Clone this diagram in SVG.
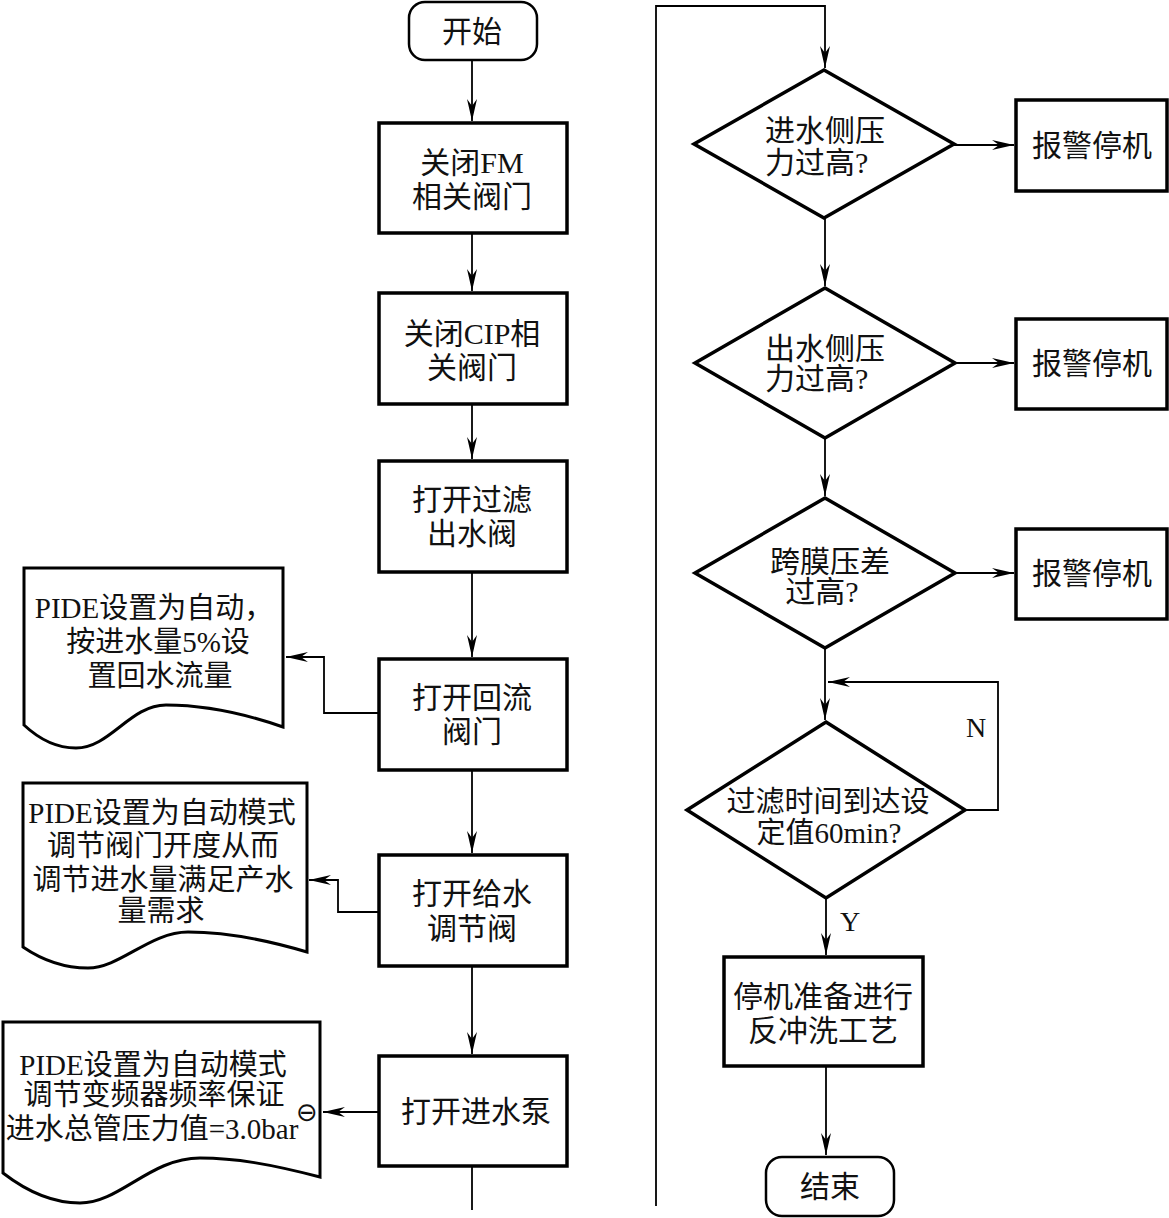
<svg xmlns="http://www.w3.org/2000/svg" width="1169" height="1218" viewBox="0 0 1169 1218">
<style>
.box{fill:#fff;stroke:#000;stroke-width:3.5}
.dia{fill:#fff;stroke:#000;stroke-width:3.5}
.term{fill:#fff;stroke:#000;stroke-width:2.5}
.doc{fill:#fff;stroke:#000;stroke-width:3}
.con{fill:none;stroke:#000;stroke-width:1.8}
text{font-family:"Liberation Serif","Noto Sans CJK SC",serif;font-size:30px;fill:#111}
.c{text-anchor:middle}
.d{font-size:29px}
</style>
<defs>
<marker id="ar" viewBox="-23 -6 24 12" refX="0" refY="0" markerWidth="24" markerHeight="12" markerUnits="userSpaceOnUse" orient="auto">
<path d="M0,0 L-22,-5 L-15,0 L-22,5 Z" fill="#000"/>
</marker>
</defs>
<g id="connectors">
<path class="con" d="M472,60 V121" marker-end="url(#ar)"/>
<path class="con" d="M472,233 V291" marker-end="url(#ar)"/>
<path class="con" d="M472,404 V459" marker-end="url(#ar)"/>
<path class="con" d="M472,572 V657" marker-end="url(#ar)"/>
<path class="con" d="M472,770 V853" marker-end="url(#ar)"/>
<path class="con" d="M472,966 V1054" marker-end="url(#ar)"/>
<path class="con" d="M472,1166 V1210"/>
<path class="con" d="M379,713 H324 V657 H286" marker-end="url(#ar)"/>
<path class="con" d="M379,912 H338 V880 H309" marker-end="url(#ar)"/>
<path class="con" d="M379,1112 H323" marker-end="url(#ar)"/>
<path class="con" d="M656,1206 V6 H825 V68" marker-end="url(#ar)"/>
<path class="con" d="M825,218 V286" marker-end="url(#ar)"/>
<path class="con" d="M825,438 V496" marker-end="url(#ar)"/>
<path class="con" d="M825,648 V720" marker-end="url(#ar)"/>
<path class="con" d="M954,145 H1014" marker-end="url(#ar)"/>
<path class="con" d="M955,363 H1014" marker-end="url(#ar)"/>
<path class="con" d="M955,573 H1014" marker-end="url(#ar)"/>
<path class="con" d="M965,810 H998 V682 H828" marker-end="url(#ar)"/>
<path class="con" d="M826,898 V955" marker-end="url(#ar)"/>
<path class="con" d="M826,1066 V1155" marker-end="url(#ar)"/>
</g>
<g id="start">
<rect class="term" x="409" y="2" width="128" height="58" rx="16"/>
<text class="c" x="472" y="42">开始</text>
</g>
<g id="b1">
<rect class="box" x="379" y="123" width="188" height="110"/>
<text class="c" x="472" y="173">关闭FM</text>
<text class="c" x="472" y="207">相关阀门</text>
</g>
<g id="b2">
<rect class="box" x="379" y="293" width="188" height="111"/>
<text class="c" x="472" y="344">关闭CIP相</text>
<text class="c" x="472" y="378">关阀门</text>
</g>
<g id="b3">
<rect class="box" x="379" y="461" width="188" height="111"/>
<text class="c" x="472" y="510">打开过滤</text>
<text class="c" x="472" y="544">出水阀</text>
</g>
<g id="b4">
<rect class="box" x="379" y="659" width="188" height="111"/>
<text class="c" x="472" y="708">打开回流</text>
<text class="c" x="472" y="742">阀门</text>
</g>
<g id="b5">
<rect class="box" x="379" y="855" width="188" height="111"/>
<text class="c" x="472" y="904">打开给水</text>
<text class="c" x="472" y="939">调节阀</text>
</g>
<g id="b6">
<rect class="box" x="379" y="1056" width="188" height="110"/>
<text class="c" x="476" y="1122">打开进水泵</text>
</g>
<g id="doc1">
<path class="doc" d="M24,568 H283 V727 C240,712 200,705 166,705 C130,705 110,748 76,748 C58,748 40,740 24,725 Z"/>
<text class="c d" x="154" y="618">PIDE设置为自动，</text>
<text class="c d" x="158" y="652">按进水量5%设</text>
<text class="c d" x="160" y="686">置回水流量</text>
</g>
<g id="doc2">
<path class="doc" d="M23,783 H307 V952 C260,938 220,932 188,932 C150,932 120,968 88,968 C65,968 42,960 23,947 Z"/>
<text class="c d" x="162" y="823">PIDE设置为自动模式</text>
<text class="c d" x="163" y="856">调节阀门开度从而</text>
<text class="c d" x="163" y="890">调节进水量满足产水</text>
<text class="c d" x="161" y="921">量需求</text>
</g>
<g id="doc3">
<path class="doc" d="M3,1022 H320 V1177 C270,1164 235,1158 200,1158 C150,1158 120,1203 80,1203 C50,1203 25,1190 3,1173 Z"/>
<text class="c d" x="153" y="1075">PIDE设置为自动模式</text>
<text class="c d" x="154" y="1105">调节变频器频率保证</text>
<text class="c d" x="152" y="1139">进水总管压力值=3.0bar</text>
<text x="307" y="1121" style="font-family:'DejaVu Sans',sans-serif;font-size:26px" text-anchor="middle">⊖</text>
</g>
<g id="d1">
<polygon class="dia" points="824,70 954,144 824,218 694,144"/>
<text x="765" y="141">进水侧压</text>
<text x="765" y="173">力过高?</text>
</g>
<g id="a1">
<rect class="box" x="1016" y="100" width="151" height="91"/>
<text class="c" x="1092" y="156">报警停机</text>
</g>
<g id="d2">
<polygon class="dia" points="825,288 955,363 825,438 695,363"/>
<text x="765" y="359">出水侧压</text>
<text x="765" y="389">力过高?</text>
</g>
<g id="a2">
<rect class="box" x="1016" y="319" width="151" height="90"/>
<text class="c" x="1092" y="374">报警停机</text>
</g>
<g id="d3">
<polygon class="dia" points="825,498 955,573 825,648 695,573"/>
<text class="c" x="830" y="572">跨膜压差</text>
<text class="c" x="822" y="602">过高?</text>
</g>
<g id="a3">
<rect class="box" x="1016" y="529" width="151" height="90"/>
<text class="c" x="1092" y="584">报警停机</text>
</g>
<g id="d4">
<polygon class="dia" points="826,722 965,810 826,898 687,810"/>
<text class="c d" x="828" y="812">过滤时间到达设</text>
<text class="c d" x="829" y="843">定值60min?</text>
</g>
<text x="976" y="737" class="c" style="font-size:28px">N</text>
<text x="850" y="931" class="c" style="font-size:28px">Y</text>
<g id="b7">
<rect class="box" x="724" y="957" width="199" height="109"/>
<text class="c" x="823" y="1007">停机准备进行</text>
<text class="c" x="823" y="1041">反冲洗工艺</text>
</g>
<g id="end">
<rect class="term" x="766" y="1157" width="128" height="59" rx="16"/>
<text class="c" x="830" y="1197">结束</text>
</g>
</svg>
